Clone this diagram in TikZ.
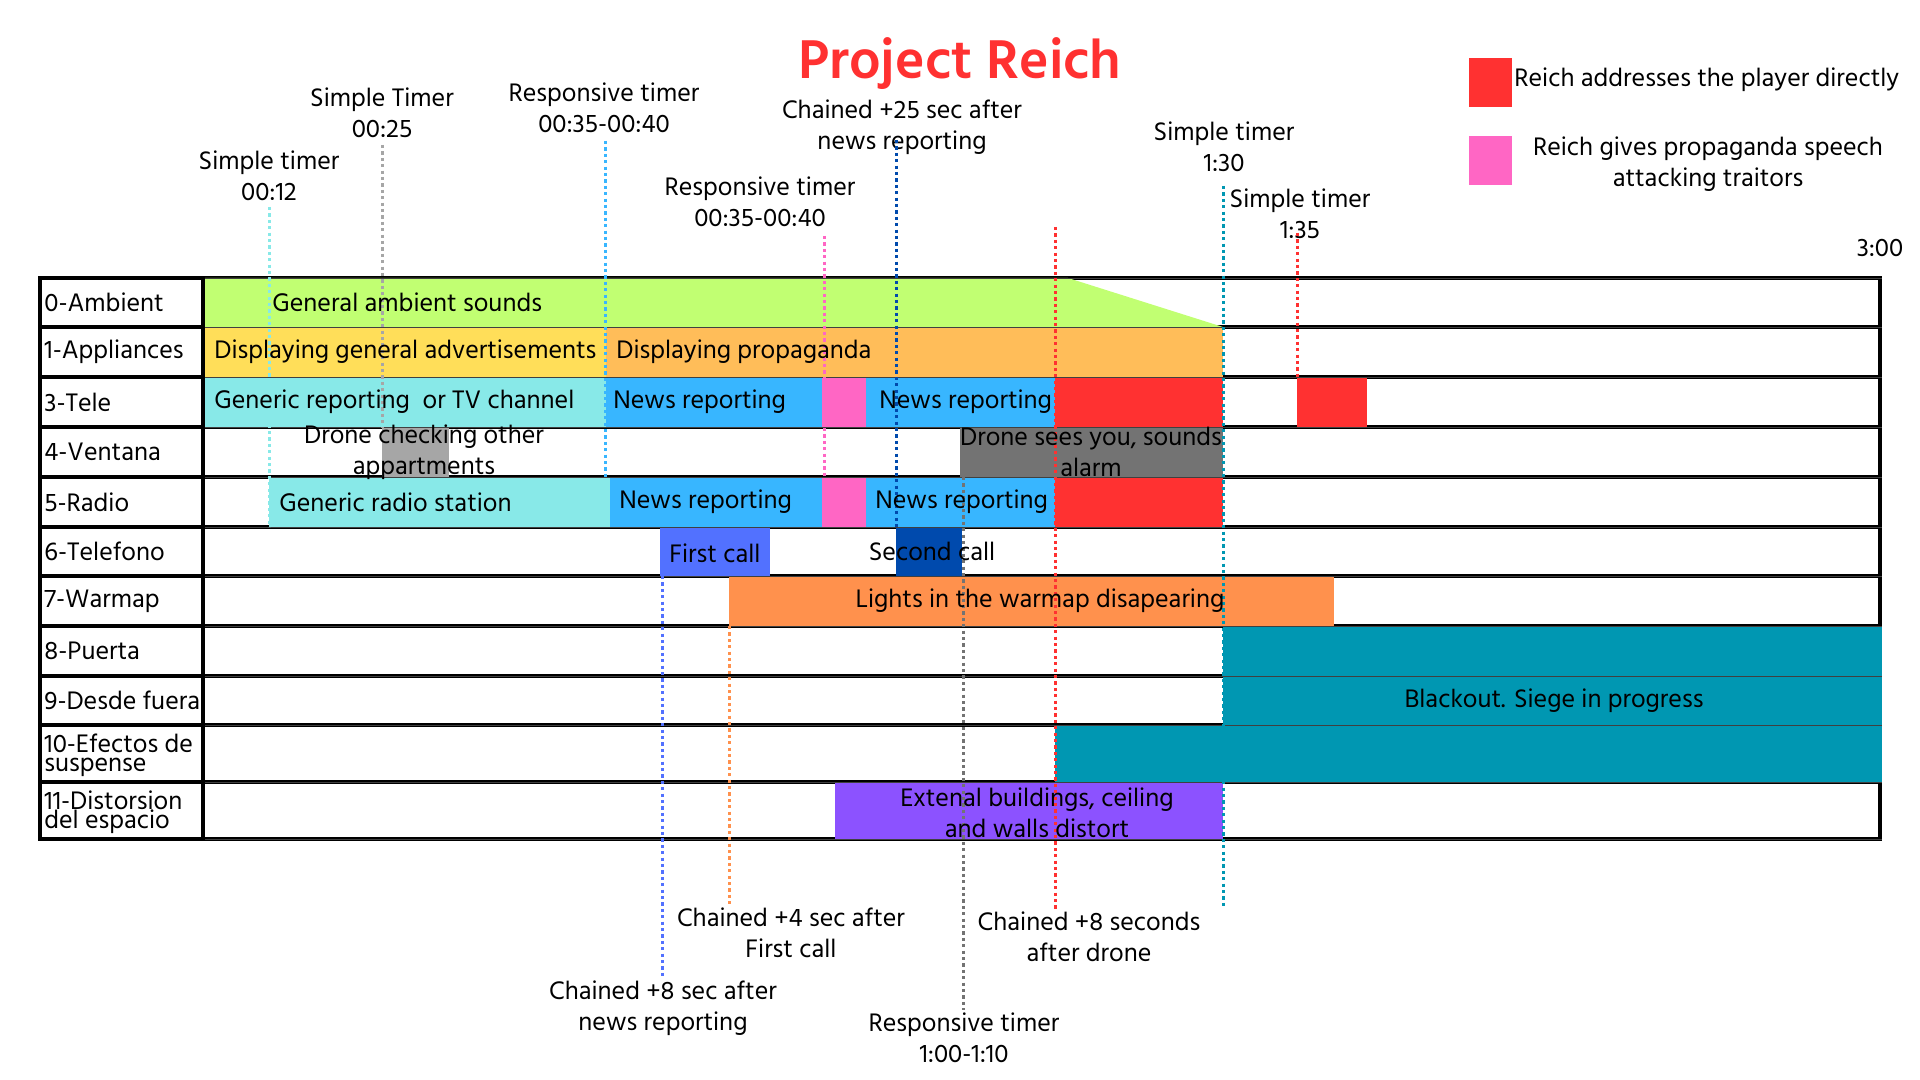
\documentclass[tikz,border=0pt]{standalone}
\usepackage{fontspec}
\setmainfont{Hind Madurai}
\definecolor{ambient}{HTML}{C1FF72}
\definecolor{advert}{HTML}{FFDE59}
\definecolor{propa}{HTML}{FFBD59}
\definecolor{generic}{HTML}{88E9E8}
\definecolor{news}{HTML}{38B6FF}
\definecolor{speech}{HTML}{FF66C4}
\definecolor{reich}{HTML}{FF3131}
\definecolor{drone}{HTML}{A6A6A6}
\definecolor{alarm}{HTML}{737373}
\definecolor{callone}{HTML}{5271FF}
\definecolor{calltwo}{HTML}{004AAD}
\definecolor{warmap}{HTML}{FF914D}
\definecolor{siege}{HTML}{0097B2}
\definecolor{distort}{HTML}{8C52FF}
\newcommand{\lbfont}{\fontsize{13}{15.5}\selectfont}
\newcommand{\tightfont}{\fontsize{13}{9.7}\selectfont}
\newcommand{\ttlfont}{\fontsize{28}{32}\selectfont\bfseries}
\tikzset{
  grid/.style   = {draw=black, line width=1.75pt, line cap=rect},
  sep/.style    = {draw=black!75, line width=0.4pt},
  tick/.style   = {line width=1.5pt, dash pattern=on 1.6pt off 1.6pt},
  lbl/.style    = {font=\lbfont, align=center, inner sep=1pt},
  txt/.style    = {font=\lbfont, anchor=west, inner sep=0pt},
  track/.style  = {font=\tightfont, anchor=west, inner sep=0pt, align=left},
}
% x1, x2, top, bottom, colour
\newcommand{\trk}[5]{\fill[#5] (#1,#3) rectangle (#2,#4);}

\begin{document}
\begin{tikzpicture}[x=0.5pt,y=-0.5pt]
\useasboundingbox (0,0) rectangle (1920,1080);
\fill[white] (0,0) rectangle (1920,1080);

% ---------------------------------------------------------- grid
\foreach \y in {278,327,377,427,477,527,576,626,676,725,782,839}
  \draw[grid] (40,\y) -- (1880,\y);
\foreach \x in {40,203,1880}
  \draw[grid] (\x,278) -- (\x,839);

% ---------------------------------------------------------- tracks
% 0-Ambient fades out between 1068 and 1223
\fill[ambient] (205,278) -- (1068,278) -- (1223,327) -- (205,327) -- cycle;
% 1-Appliances
\trk{205}{606}{327}{377}{advert}
\trk{606}{1223}{327}{377}{propa}
% 3-Tele
\trk{205}{606}{377}{427}{generic}
\trk{606}{822}{377}{427}{news}
\trk{822}{866}{377}{427}{speech}
\trk{866}{1055}{377}{427}{news}
\trk{1055}{1223}{377}{427}{reich}
\trk{1297}{1367}{377}{427}{reich}
% 4-Ventana
\trk{382}{449}{427}{477}{drone}
\trk{960}{1223}{427}{477}{alarm}
% 5-Radio
\trk{269}{610}{477}{527}{generic}
\trk{610}{822}{477}{527}{news}
\trk{822}{866}{477}{527}{speech}
\trk{866}{1055}{477}{527}{news}
\trk{1055}{1223}{477}{527}{reich}
% 6-Telefono
\trk{660}{770}{527}{576}{callone}
\trk{896}{962}{527}{576}{calltwo}
% 7-Warmap
\trk{729}{1334}{576}{626}{warmap}
% 8 to 10, the siege
\trk{1223}{1882}{626}{676}{siege}
\trk{1223}{1882}{676}{725}{siege}
\trk{1055}{1882}{725}{782}{siege}
% 11-Distorsion
\trk{835}{1223}{782}{839}{distort}

% thin row edges over the coloured tracks
\foreach \y in {278,327,377,427,477,527,576,626,676,725,782,839}
  \draw[sep] (205,\y) -- (1882,\y);

% ---------------------------------------------------------- timer labels
\node[lbl] (t12)  at (269,176)   {Simple timer\\00:12};
\node[lbl] (t25)  at (382,113)   {Simple Timer\\00:25};
\node[lbl] (r35a) at (604,107.5) {Responsive timer\\00:35-00:40};
\node[lbl] (c25)  at (902,127)   {Chained +25 sec after\\news reporting};
\node[lbl] (r35b) at (760,202)   {Responsive timer\\00:35-00:40};
\node[lbl] (t130) at (1224,146.5) {Simple timer\\1:30};
\node[lbl] (t135) at (1300,213.5) {Simple timer\\1:35};
\node[lbl] (t300) at (1880,248)  {3:00};

\node[lbl] (c4)   at (791,932.5)  {Chained +4 sec after\\First call};
\node[lbl] (c8a)  at (663,1008)   {Chained +8 sec after\\news reporting};
\node[lbl] (r100) at (964,1037.5) {Responsive timer\\1:00-1:10};
\node[lbl] (c8b)  at (1089,936.5)  {Chained +8 seconds\\after drone};

% ---------------------------------------------------------- timer ticks
\coordinate (k12a)  at (269,207);  \coordinate (k12b)  at (269,527);
\coordinate (k25a)  at (382,145);  \coordinate (k25b)  at (382,427);
\coordinate (k35a)  at (605,141);  \coordinate (k35b)  at (605,477);
\coordinate (k35c)  at (824,236);  \coordinate (k35d)  at (824,477);
\coordinate (k25c)  at (896,140);  \coordinate (k25d)  at (896,527);
\coordinate (kdrn)  at (1055,227);
\coordinate (k130a) at (1223,186); \coordinate (k130b) at (1223,906);
\coordinate (k135a) at (1297,233); \coordinate (k135b) at (1297,377);
\coordinate (kcall) at (662,576);
\coordinate (kwar)  at (729,626);
\coordinate (kalm)  at (963,477);

\draw[tick, generic] (k12a) -- (k12b);
\draw[tick, drone]   (k25a) -- (k25b);
\draw[tick, news]    (k35a) -- (k35b);
\draw[tick, speech]  (k35c) -- (k35d);
\draw[tick, calltwo] (k25c) -- (k25d);
\draw[tick, reich]   (kdrn) -- (kdrn |- c8b.north);
\draw[tick, siege]   (k130a) -- (k130b);
\draw[tick, reich]   (k135a) -- (k135b);
\draw[tick, callone] (kcall) -- (kcall |- c8a.north);
\draw[tick, warmap]  (kwar) -- (kwar |- c4.north);
\draw[tick, alarm]   (kalm) -- (kalm |- r100.north);

% ---------------------------------------------------------- track names
\node[track] (n0)  at (44,302.5) {0-Ambient};
\node[track] (n1)  at (44,352)   {1-Appliances};
\node[track] (n3)  at (44,402)   {3-Tele};
\node[track] (n4)  at (44,452)   {4-Ventana};
\node[track] (n5)  at (44,502)   {5-Radio};
\node[track] (n6)  at (44,551.5) {6-Telefono};
\node[track] (n7)  at (44,601)   {7-Warmap};
\node[track] (n8)  at (44,651)   {8-Puerta};
\node[track] (n9)  at (44,700.5) {9-Desde fuera};
\node[track] (n10) at (44,755.5) {10-Efectos de\\suspense};
\node[track] (n11) at (44,812.5) {11-Distorsion\\del espacio};

% ---------------------------------------------------------- track texts
\node[txt] (amb)  at (272,302.5) {General ambient sounds};
\node[txt] (adv)  at (214,352)   {Displaying general advertisements};
\node[txt] (prop) at (616,352)   {Displaying propaganda};
\node[txt] (gtv)  at (214,402)   {Generic reporting~ or TV channel};
\node[txt] (tv1)  at (613,402)   {News reporting};
\node[txt] (tv2)  at (879,402)   {News reporting};
\node[lbl] (drn)  at (424,452)   {Drone checking other\\appartments};
\node[lbl] (alm)  at (1091,452)  {Drone sees you, sounds\\alarm};
\node[txt] (grs)  at (279,502)   {Generic radio station};
\node[txt] (rd1)  at (619,502)   {News reporting};
\node[txt] (rd2)  at (875,502)   {News reporting};
\node[txt] (cl1)  at (669,553)   {First call};
\node[lbl] (cl2)  at (932,551.5) {Second call};
\node[lbl] (war)  at (1040,601)  {Lights in the warmap disapearing};
\node[lbl] (blk)  at (1554,700.5) {Blackout. Siege in progress};
\node[lbl] (dst)  at (1037,812.5) {Extenal buildings, ceiling\\and walls distort};

% ---------------------------------------------------------- title and legend
\node[font=\ttlfont, text=reich] (title) at (960,64) {Project Reich};
\fill[reich]  (1469,58)  rectangle (1512,107);
\fill[speech] (1469,136) rectangle (1512,185);
\node[txt] (lgred)  at (1514,80)    {Reich addresses the player directly};
\node[lbl] (lgpink) at (1708,164.5) {Reich gives propaganda speech\\attacking traitors};

\end{tikzpicture}
\end{document}
